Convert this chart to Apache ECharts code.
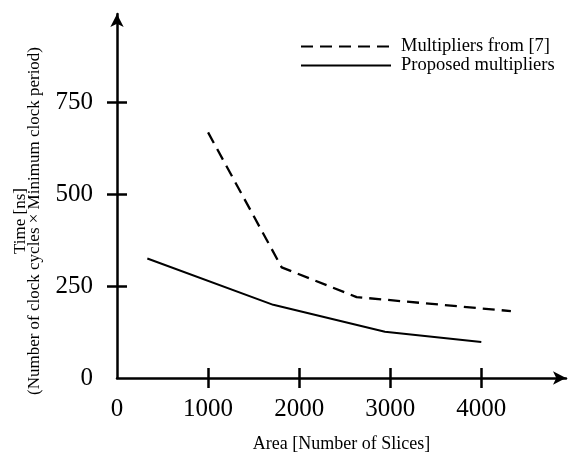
<!DOCTYPE html>
<html>
<head>
<meta charset="utf-8">
<script src="https://cdn.jsdelivr.net/npm/echarts@6/dist/echarts.min.js"></script>
<style>html,body{margin:0;padding:0;background:#fff}#c{width:573px;height:458px}</style>
</head>
<body>
<div id="c"></div>
<script>
// Data
const refArea = [1000, 1808, 2631, 4325];
const refTime = [668, 301, 220, 182];
const propArea = [333, 1716, 2942, 4000];
const propTime = [325, 199, 126, 98];
const xLabelValues = [0, 1000, 2000, 3000, 4000];
const xTickValues = [1000, 2000, 3000, 4000];
const yLabelValues = [0, 250, 500, 750];
const yTickValues = [250, 500, 750];
const seriesNames = ['Multipliers from [7]', 'Proposed multipliers'];
const xName = 'Area [Number of Slices]';
const yName = 'Time [ns]\n(Number of clock cycles \u00d7 Minimum clock period)';

const FONT = '"Liberation Serif", "Times New Roman", serif';
const chart = echarts.init(document.getElementById('c'));
const xMin = 0, xMax = 4930, yMin = 0, yMax = 990;

function pairs(xs, ys) { return xs.map((x, i) => [x, ys[i]]); }
const plain = v => String(v);

chart.setOption({
  animation: false,
  backgroundColor: '#fff',
  grid: { left: 117, right: 7, top: 14, bottom: 71, containLabel: false },
  legend: {
    orient: 'vertical', left: 300, top: 37, padding: 0, itemWidth: 90, itemHeight: 14, itemGap: 0,
    itemStyle: { opacity: 0 },
    textStyle: { fontFamily: FONT, fontSize: 18.5, color: '#000', lineHeight: 18, padding: [0, 0, 0, 5] },
    data: seriesNames
  },
  xAxis: [{
    type: 'value', min: xMin, max: xMax, position: 'bottom',
    name: xName, nameLocation: 'middle', nameGap: 57,
    nameTextStyle: { fontFamily: FONT, fontSize: 18, color: '#000' },
    axisLine: { show: true, onZero: false, symbol: ['none', 'arrow'], symbolSize: [10, 13], lineStyle: { color: '#000', width: 2.5 } },
    axisTick: { show: true, inside: false, length: 10, customValues: xTickValues, lineStyle: { color: '#000', width: 2.5 } },
    axisLabel: { show: true, customValues: xLabelValues, formatter: plain, margin: 19, fontFamily: FONT, fontSize: 25, color: '#000' },
    splitLine: { show: false }
  }, {
    type: 'value', min: xMin, max: xMax, position: 'bottom',
    axisLine: { show: false },
    axisTick: { show: true, inside: true, length: 10, customValues: xTickValues, lineStyle: { color: '#000', width: 2.5 } },
    axisLabel: { show: false },
    splitLine: { show: false }
  }],
  yAxis: [{
    type: 'value', min: yMin, max: yMax, position: 'left',
    axisLine: { show: true, onZero: false, symbol: ['none', 'arrow'], symbolSize: [10, 13], lineStyle: { color: '#000', width: 2.5 } },
    axisTick: { show: true, inside: false, length: 10, customValues: yTickValues, lineStyle: { color: '#000', width: 2.5 } },
    axisLabel: { show: true, customValues: yLabelValues, formatter: plain, margin: 24, fontFamily: FONT, fontSize: 25, color: '#000' },
    splitLine: { show: false }
  }, {
    type: 'value', min: yMin, max: yMax, position: 'left',
    axisLine: { show: false },
    axisTick: { show: true, inside: true, length: 10, customValues: yTickValues, lineStyle: { color: '#000', width: 2.5 } },
    axisLabel: { show: false },
    splitLine: { show: false }
  }],
  graphic: [{
    type: 'text', x: 28, y: 221, rotation: Math.PI / 2,
    style: { text: yName, textAlign: 'center', textVerticalAlign: 'middle', font: '17px ' + FONT, lineHeight: 14, fill: '#000' }
  }],
  series: [{
    name: seriesNames[0], type: 'line', xAxisIndex: 0, yAxisIndex: 0,
    data: pairs(refArea, refTime), symbol: 'none',
    lineStyle: { color: '#000', width: 2.3, type: [12, 7] },
    itemStyle: { color: '#000' }
  }, {
    name: seriesNames[1], type: 'line', xAxisIndex: 0, yAxisIndex: 0,
    data: pairs(propArea, propTime), symbol: 'none',
    lineStyle: { color: '#000', width: 2 },
    itemStyle: { color: '#000' }
  }]
});
</script>
</body>
</html>
